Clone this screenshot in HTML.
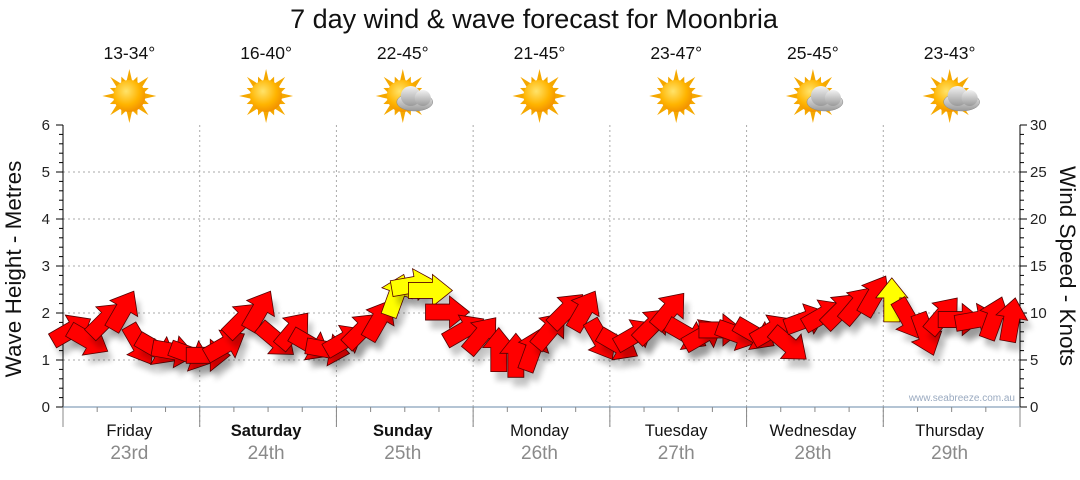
<!DOCTYPE html>
<html><head><meta charset="utf-8"><style>
body{margin:0;background:#fff;width:1080px;height:475px;overflow:hidden;font-family:"Liberation Sans",sans-serif}
</style></head><body>
<svg id="chart" width="1080" height="475" xmlns="http://www.w3.org/2000/svg" font-family="Liberation Sans, sans-serif">
<defs>
<radialGradient id="sunG" cx="0.4" cy="0.35" r="0.7"><stop offset="0" stop-color="#ffe36a"/><stop offset="0.6" stop-color="#ffb400"/><stop offset="1" stop-color="#f08c00"/></radialGradient>
<linearGradient id="cloudG" x1="0" y1="0" x2="0" y2="1"><stop offset="0" stop-color="#f2f2f2"/><stop offset="1" stop-color="#9a9a9a"/></linearGradient>
<filter id="sh" x="-50%" y="-50%" width="200%" height="200%"><feGaussianBlur stdDeviation="3"/></filter>
</defs>
<text x="534" y="28" text-anchor="middle" font-size="27" fill="#111">7 day wind &amp; wave forecast for Moonbria</text>
<g id="top"></g>
<g id="grid"></g>
<g id="axes"></g>
<g id="arrows"></g>
<text x="1015" y="401" text-anchor="end" font-size="10" fill="#9aaac0">www.seabreeze.com.au</text>
<text transform="translate(21,269) rotate(-90)" text-anchor="middle" font-size="22.5" fill="#111">Wave Height - Metres</text>
<text transform="translate(1060,266) rotate(90)" text-anchor="middle" font-size="22.5" fill="#111">Wind Speed - Knots</text>
</svg>
<script>
const days=["Friday","Saturday","Sunday","Monday","Tuesday","Wednesday","Thursday"];
const dates=["23rd","24th","25th","26th","27th","28th","29th"];
const temps=["13-34°","16-40°","22-45°","21-45°","23-47°","25-45°","23-43°"];
const cloudy=[0,0,1,0,0,1,1];
const boldDays=[0,1,1,0,0,0,0];
const waveTicks=[0,1,2,3,4,5,6];
const windTicks=[0,5,10,15,20,25,30];
const windSpeed=[8.2,7.1,9.3,10.3,6.6,6.1,5.9,5.5, 5.5,6.6,9.3,10.3,7.1,8.2,6.6,6.1, 7.1,8.2,9.3,11.9,13,12.4,10.1,8.2, 7.7,6.1,5.5,6.1,8.2,10.3,10.3,7.1, 6.6,7.7,8.7,10.3,7.7,7.7,8.2,7.7, 7.7,8.2,6.6,9.3,9.8,10.3,10.9,11.9, 11.4,9.3,7.7,9.8,9.3,9.3,9.5,9.3];
const windDir=[60,120,45,30,150,120,100,110, 90,60,45,30,130,40,120,100, 60,45,30,20,80,90,90,60, 40,0,0,20,40,45,30,150, 120,60,45,40,120,60,90,110, 120,60,130,70,60,45,40,30, 0,150,160,40,90,80,20,10];
const seaBreeze=[0,0,0,0,0,0,0,0, 0,0,0,0,0,0,0,0, 0,0,0,1,1,1,0,0, 0,0,0,0,0,0,0,0, 0,0,0,0,0,0,0,0, 0,0,0,0,0,0,0,0, 1,0,0,0,0,0,0,0];

const NS="http://www.w3.org/2000/svg";
const X0=63,X1=1020,Y0=407,Y1=125;
const dayW=(X1-X0)/7;
function xT(t){return X0+t*dayW;}
function yWave(m){return Y0-(m/6)*(Y0-Y1);}
function yWind(k){return Y0-(k/30)*(Y0-Y1);}
function mk(tag,attrs,parent){const e=document.createElementNS(NS,tag);for(const k in attrs)e.setAttribute(k,attrs[k]);parent.appendChild(e);return e;}
const grid=document.getElementById('grid'),axes=document.getElementById('axes'),top_=document.getElementById('top'),arr=document.getElementById('arrows');

waveTicks.forEach(v=>{if(v>0&&v<6){const g=mk('line',{x1:X0,x2:X1,y1:yWave(v),y2:yWave(v),stroke:'#aaa','stroke-dasharray':'2,3','stroke-width':1},grid);

}});
for(let d=1;d<7;d++){const g=mk('line',{x1:xT(d),x2:xT(d),y1:Y1,y2:Y0+20,stroke:'#aaa','stroke-dasharray':'2,3','stroke-width':1},grid);

}

const la=mk('line',{x1:X0,x2:X0,y1:Y1,y2:Y0,stroke:'#000'},axes);


const ra=mk('line',{x1:X1,x2:X1,y1:Y1,y2:Y0,stroke:'#000'},axes);


const ba=mk('line',{x1:X0,x2:X1,y1:Y0,y2:Y0,stroke:'#6a8aa8'},axes);


for(let i=0;i<=30;i++){const y=Y1+i*(Y0-Y1)/30;const major=i%5==0;
mk('line',{x1:X0-(major?7:4),x2:X0,y1:y,y2:y,stroke:'#000'},axes);
mk('line',{x1:X1,x2:X1+(major?7:4),y1:y,y2:y,stroke:'#000'},axes);}
waveTicks.forEach(v=>{const t=mk('text',{x:50,y:yWave(v)+5,'text-anchor':'end','font-size':15,fill:'#222'},axes);t.textContent=v;

});
windTicks.forEach(v=>{const t=mk('text',{x:1030,y:yWind(v)+5,'font-size':15,fill:'#222'},axes);t.textContent=v;

});
for(let d=0;d<=7*4;d++){const x=X0+d*dayW/4;mk('line',{x1:x,x2:x,y1:Y0,y2:Y0+(d%4==0?20:5),stroke:'#888'},axes);}

days.forEach((d,i)=>{const cx=xT(i+0.5)-2;
const t=mk('text',{x:cx,y:436,'text-anchor':'middle','font-size':16.5,fill:'#111','font-weight':boldDays[i]?'bold':'normal'},axes);t.textContent=d;


const t2=mk('text',{x:cx,y:459,'text-anchor':'middle','font-size':19,fill:'#8a8a8a'},axes);t2.textContent=dates[i];


const t3=mk('text',{x:cx,y:59,'text-anchor':'middle','font-size':17.5,fill:'#111'},top_);t3.textContent=temps[i];


const g=mk('g',{transform:`translate(${cx},${96})`},top_);


for(let r=0;r<16;r++){const a=r*22.5;const L=r%2?21:27;mk('polygon',{points:`-3,-14 3,-14 0,-${L}`,fill:'#f5a800',transform:`rotate(${a})`},g);}
mk('circle',{r:16,fill:'url(#sunG)'},g);
if(cloudy[i]){const c=mk('g',{transform:'translate(12,4)'},g);
mk('ellipse',{cx:0,cy:2,rx:18,ry:9,fill:'url(#cloudG)',stroke:'#888','stroke-width':0.5},c);
mk('circle',{cx:-4,cy:-4,r:10,fill:'url(#cloudG)'},c);mk('circle',{cx:8,cy:-2,r:8,fill:'url(#cloudG)'},c);}
});

const pts="-22,-8 2,-8 2,-16 22,0 2,16 2,8 -22,8";
windSpeed.forEach((v,i)=>{const x=xT((i+0.5)/8),y=yWind(v);const rot=windDir[i]-90;
mk('polygon',{points:pts,fill:'#000',opacity:0.22,filter:'url(#sh)',transform:`translate(${x+5},${y+9}) rotate(${rot})`},arr);
const a=mk('polygon',{points:pts,fill:seaBreeze[i]?'#ffff00':'#ff0000',stroke:'#550000','stroke-width':0.8,transform:`translate(${x},${y}) rotate(${rot})`},arr);

});
</script>
</body></html>
